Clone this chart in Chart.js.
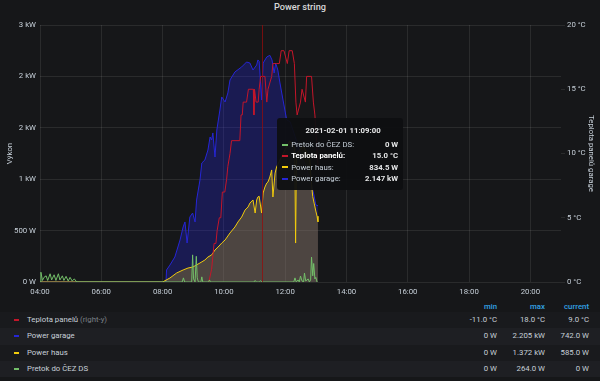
<!DOCTYPE html>
<html>
<head>
<meta charset="utf-8">
<script src="https://cdn.jsdelivr.net/npm/chart.js@4/dist/chart.umd.min.js"></script>
<style>
html,body{margin:0;padding:0;background:#161719;width:600px;height:381px;overflow:hidden;font-family:Roboto,"Noto Sans",sans-serif;}
#title{position:absolute;left:0;top:0;width:600px;text-align:center;font-size:9.2px;font-weight:500;color:#d8d9da;line-height:13px;}
#wrap{position:absolute;left:0;top:0;width:600px;height:298px;}
#tip{position:absolute;display:none;background:rgba(14,15,17,0.94);border-radius:3px;width:116px;padding:7px 5px 6px 5px;font-size:7.8px;color:#c7d0d9;}
#tip .tt{text-align:center;font-weight:700;color:#e4e5e6;line-height:12px;margin-bottom:2px;padding-left:6px;}
#tip .r{display:flex;align-items:center;height:11.3px;white-space:nowrap;}
#tip .mk{display:inline-block;width:6px;height:2px;margin-right:3px;}
#tip .lb{flex:1;}
#tip .lb.hi{font-weight:700;color:#ffffff;}
#tip .vl{font-weight:700;color:#e4e5e6;}
#legend{position:absolute;left:0;top:300px;width:600px;font-size:7.8px;color:#c7d0d9;}
#legend .hd{position:relative;height:12px;color:#33a2e5;font-weight:500;}
#legend .row{position:relative;height:16.3px;}
#legend .row.alt{background:#1e1f23;}
#legend .row.odd{background:#191a1d;}
#legend .c{position:absolute;top:0;line-height:inherit;}
#legend .hd .c{line-height:13px;}
#legend .row .c{line-height:16.3px;}
#legend .mkr{position:absolute;left:14px;top:7px;width:5px;height:2px;}
#legend .ry{color:#7b8087;}
</style>
</head>
<body>
<div id="title">Power string</div>
<div id="wrap"><canvas id="c" width="600" height="298"></canvas></div>
<div id="tip"></div>
<div id="legend"></div>
<script>
// ---------------- data (hours of day, values) ----------------
const dateLabel = '2021-02-01';
const hoverTime = 11.15;   // 11:09:00, the sample shown in the tooltip
const cursorTime = 11.24;  // where the mouse crosshair sits

const garageT = [4.0, 8.0, 8.11, 8.13, 8.24, 8.40, 8.57, 8.67, 8.73, 8.80, 8.89, 8.98, 9.06, 9.11, 9.22, 9.28, 9.38, 9.48, 9.55, 9.60, 9.64, 9.71, 9.77, 9.87, 9.93, 10.04, 10.13, 10.20, 10.36, 10.58, 10.74, 10.85, 10.95, 11.07, 11.11, 11.15, 11.18, 11.23, 11.28, 11.40, 11.50, 11.57, 11.64, 11.69, 11.76, 11.83, 11.93, 12.05, 12.16, 12.32, 12.48, 12.65, 12.81, 12.94, 13.00, 13.07];
const garageV = [0, 0, 0, 117, 165, 243, 409, 535, 584, 379, 632, 671, 584, 798, 992, 1158, 1187, 1284, 1411, 1381, 1450, 1216, 1479, 1673, 1800, 1751, 1839, 1965, 2043, 2092, 2140, 2130, 2062, 2111, 2160, 2147, 2014, 1770, 2130, 2189, 2205, 2160, 2033, 2130, 2062, 1936, 1770, 1576, 1560, 1420, 1265, 1138, 992, 846, 749, 742];

const hausT = [4.0, 8.0, 8.24, 8.46, 8.67, 8.83, 8.99, 9.22, 9.38, 9.48, 9.60, 9.71, 9.81, 9.93, 10.04, 10.20, 10.36, 10.46, 10.58, 10.69, 10.79, 10.85, 10.95, 11.02, 11.07, 11.11, 11.15, 11.23, 11.28, 11.34, 11.40, 11.44, 11.50, 11.56, 11.60, 11.67, 11.72, 11.85, 12.00, 12.15, 12.25, 12.31, 12.34, 12.37, 12.45, 12.60, 12.80, 12.86, 12.90, 12.95, 13.00, 13.04, 13.07];
const hausV = [0, 0, 39, 88, 117, 136, 146, 185, 214, 243, 263, 311, 340, 379, 409, 477, 535, 584, 632, 700, 730, 768, 798, 671, 798, 827, 834.5, 671, 866, 924, 963, 973, 1021, 1090, 827, 1060, 1119, 1200, 1290, 1372, 1330, 1300, 379, 1250, 1280, 1320, 1200, 950, 830, 760, 690, 640, 585];

const teplotaT = [4.0, 6.0, 7.5, 8.5, 9.0, 9.3, 9.45, 9.51, 9.60, 9.68, 9.74, 9.78, 9.85, 9.90, 9.95, 10.03, 10.09, 10.13, 10.20, 10.25, 10.52, 10.56, 10.60, 10.63, 10.74, 10.80, 10.92, 10.96, 10.98, 11.00, 11.05, 11.12, 11.15, 11.20, 11.34, 11.40, 11.44, 11.56, 11.60, 11.72, 11.81, 11.87, 11.96, 12.07, 12.13, 12.23, 12.30, 12.35, 12.39, 12.50, 12.55, 12.66, 12.70, 12.86, 12.92, 12.97, 13.02, 13.07];
const teplotaV = [-11, -11, -10, -8, -5, -2, -1, 0, 1, 3, 3, 4, 5, 5, 7, 7, 8, 9, 10, 11, 11, 13, 13, 14, 14, 15, 15, 15, 13, 15, 14, 14, 15, 16, 16, 14, 15, 16, 17, 17, 17, 18, 18, 17, 18, 18, 17, 14, 13, 14, 15, 14, 16, 16, 14, 13, 11, 9];

const pretokT = [4.00, 4.03, 4.08, 4.13, 4.20, 4.25, 4.33, 4.38, 4.46, 4.52, 4.60, 4.65, 4.73, 4.78, 4.85, 4.92, 4.98, 5.05, 5.12, 5.20, 8.64, 8.68, 8.72, 8.95, 8.98, 9.01, 9.06, 9.10, 9.13, 9.17, 9.25, 9.28, 9.31, 9.50, 9.53, 9.56, 10.98, 11.02, 11.06, 11.15, 11.20, 11.24, 12.28, 12.32, 12.36, 12.42, 12.46, 12.50, 12.55, 12.60, 12.63, 12.67, 12.75, 12.79, 12.83, 12.86, 12.90, 12.93, 12.97, 13.00, 13.04, 13.07];
const pretokV = [0, 95, 15, 45, 60, 15, 80, 20, 70, 15, 80, 20, 60, 15, 55, 10, 45, 10, 30, 0, 0, 40, 0, 0, 264, 30, 0, 250, 40, 0, 0, 50, 0, 0, 20, 0, 0, 15, 0, 0, 12, 0, 0, 40, 0, 20, 0, 58, 10, 0, 87, 10, 30, 0, 20, 243, 60, 180, 30, 45, 0, 0];

const powerTicks = [0, 500, 1000, 1500, 2000, 2500];
const tempTicks = [0, 5, 10, 15, 20];
const hourTicks = [4, 6, 8, 10, 12, 14, 16, 18, 20];

// ---------------- helpers ----------------
const toPts = (T, V) => T.map((t, i) => ({x: t, y: V[i]}));
function fmtPower(v){
  if (v === 0) return '0 W';
  if (Math.abs(v) >= 1000) return (v/1000).toFixed(3) + ' kW';
  return v.toFixed(1) + ' W';
}
function fmtTemp(v){ return v.toFixed(1) + ' °C'; }
function pad(n){ return (n < 10 ? '0' : '') + n; }
function fmtClock(h){
  const tot = Math.round(h * 3600);
  return pad(Math.floor(tot/3600)) + ':' + pad(Math.floor((tot%3600)/60)) + ':' + pad(tot%60);
}

const FONT = 'Roboto';
const TXT = '#c7d0d9';
const GRID = 'rgba(255,255,255,0.085)';

const series = [
  {label:'Pretok do ČEZ DS', T:pretokT, V:pretokV, color:'#73bf69', fill:false, axis:'y', bg:'rgba(115,191,105,0.1)'},
  {label:'Teplota panelů', T:teplotaT, V:teplotaV, color:'#c4162a', fill:false, axis:'y1', bg:'rgba(196,22,42,0.1)'},
  {label:'Power haus', T:hausT, V:hausV, color:'#f2cc0c', fill:'origin', axis:'y', bg:'rgba(242,204,12,0.24)'},
  {label:'Power garage', T:garageT, V:garageV, color:'#2626d6', fill:'origin', axis:'y', bg:'rgba(38,38,214,0.3)'}
];

const crosshair = {
  id:'crosshair',
  afterDatasetsDraw(chart){
    const c = chart.ctx;
    const x = Math.round(chart.scales.x.getPixelForValue(cursorTime)) + 0.5;
    const {top, bottom} = chart.chartArea;
    c.save();
    c.strokeStyle = 'rgba(150,12,12,0.75)';
    c.lineWidth = 1;
    c.beginPath(); c.moveTo(x, top); c.lineTo(x, bottom); c.stroke();
    c.restore();
  }
};

function externalTip(context){
  const {chart, tooltip} = context;
  const el = document.getElementById('tip');
  if (!tooltip.dataPoints || tooltip.dataPoints.length === 0){ el.style.display = 'none'; return; }
  let html = '<div class="tt">' + dateLabel + ' ' + fmtClock(hoverTime) + '</div>';
  tooltip.dataPoints.forEach(dp => {
    const ds = dp.dataset;
    const val = ds.yAxisID === 'y1' ? fmtTemp(dp.raw.y) : fmtPower(dp.raw.y);
    const hi = ds.yAxisID === 'y1' ? ' hi' : '';
    html += '<div class="r"><span class="mk" style="background:' + ds.borderColor + '"></span><span class="lb' + hi + '">' + ds.label + ':</span><span class="vl">' + val + '</span></div>';
  });
  el.innerHTML = html;
  const px = chart.scales.x.getPixelForValue(hoverTime);
  el.style.left = (px + 18) + 'px';
  el.style.top = (chart.chartArea.top + 93) + 'px';
  el.style.display = 'block';
}

const chart = new Chart(document.getElementById('c'), {
  type:'line',
  data:{
    datasets: series.map(s => ({
      label:s.label, data:toPts(s.T, s.V), borderColor:s.color, backgroundColor:s.bg,
      fill:s.fill, yAxisID:s.axis, borderWidth:1, pointRadius:0, pointHoverRadius:0, tension:0
    }))
  },
  options:{
    responsive:false, animation:false, events:[], devicePixelRatio:1,
    layout:{padding:{top:25, left:0, right:0, bottom:0}},
    plugins:{
      legend:{display:false},
      title:{display:false},
      tooltip:{enabled:false, external:externalTip}
    },
    scales:{
      x:{
        type:'linear', min:4, max:21,
        afterBuildTicks(s){ s.ticks = hourTicks.map(v => ({value:v})); },
        afterFit(s){ s.height = 16; },
        ticks:{color:TXT, font:{family:FONT, size:7.8}, padding:5, maxRotation:0, autoSkip:false,
               callback:v => pad(v) + ':00'},
        grid:{color:GRID, drawTicks:false},
        border:{display:false}
      },
      y:{
        position:'left', min:0, max:2500,
        afterBuildTicks(s){ s.ticks = powerTicks.map(v => ({value:v})); },
        afterFit(s){ s.width = 40; },
        ticks:{color:TXT, font:{family:FONT, size:7.8}, padding:4,
               callback:v => v === 0 ? '0 W' : (v < 1000 ? v + ' W' : Math.round(v/1000) + ' kW')},
        title:{display:true, text:'Výkon', color:TXT, font:{family:FONT, size:7.8}, padding:{top:5, bottom:0}},
        grid:{color:GRID, drawTicks:false},
        border:{display:false}
      },
      y1:{
        position:'right', min:0, max:20,
        afterBuildTicks(s){ s.ticks = tempTicks.map(v => ({value:v})); },
        afterFit(s){ s.width = 39; },
        ticks:{color:TXT, font:{family:FONT, size:7.8}, padding:2, callback:v => v + ' °C'},
        title:{display:true, text:'Teplota panelů garage', color:TXT, font:{family:FONT, size:7.8}, padding:{top:4, bottom:0}},
        grid:{drawOnChartArea:false, drawTicks:true, tickLength:4, color:GRID},
        border:{display:false}
      }
    }
  },
  plugins:[crosshair]
});

// show tooltip at hoverTime
const active = [];
chart.data.datasets.forEach((ds, di) => {
  const idx = series[di].T.findIndex(t => Math.abs(t - hoverTime) < 1e-6);
  if (idx >= 0) active.push({datasetIndex:di, index:idx});
});
const hx = chart.scales.x.getPixelForValue(hoverTime);
chart.tooltip.setActiveElements(active, {x:hx, y:chart.chartArea.top + 100});
chart.update();

// ---------------- legend table ----------------
const legendOrder = [1, 3, 2, 0];
const lg = document.getElementById('legend');
let lh = '<div class="hd"><span class="c" style="right:103px">min</span><span class="c" style="right:55px">max</span><span class="c" style="right:11px">current</span></div>';
legendOrder.forEach((si, ri) => {
  const s = series[si];
  const f = s.axis === 'y1' ? fmtTemp : fmtPower;
  const mn = Math.min(...s.V), mx = Math.max(...s.V), cur = s.V[s.V.length - 1];
  const extra = s.axis === 'y1' ? ' <span class="ry">(right-y)</span>' : '';
  lh += '<div class="row ' + (ri % 2 ? 'alt' : 'odd') + '"><span class="mkr" style="background:' + s.color + '"></span>' +
        '<span class="c" style="left:27px">' + s.label + extra + '</span>' +
        '<span class="c" style="right:103px">' + f(mn) + '</span>' +
        '<span class="c" style="right:55px">' + f(mx) + '</span>' +
        '<span class="c" style="right:11px">' + f(cur) + '</span></div>';
});
lg.innerHTML = lh;
</script>
</body>
</html>
